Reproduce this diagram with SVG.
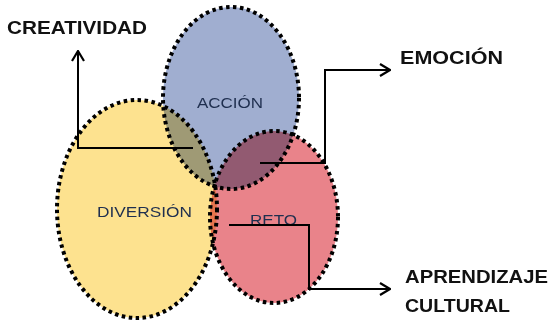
<svg xmlns="http://www.w3.org/2000/svg" width="551" height="325" viewBox="0 0 551 325">
<style>
.blob{stroke:#000;stroke-width:4;stroke-dasharray:3.5 3.5;mix-blend-mode:multiply}
.lbl{font-family:"Liberation Sans",Arial,sans-serif;font-size:15.5px;fill:#1f2f4f}
.title{font-family:"Liberation Sans",Arial,sans-serif;font-weight:bold;font-size:18.5px;fill:#111}
.conn{fill:none;stroke:#000;stroke-width:2}
</style>
<defs>
<marker id="arr" viewBox="0 0 12 14" refX="11" refY="7" markerWidth="12" markerHeight="14" markerUnits="userSpaceOnUse" orient="auto">
<path d="M1,1 L11,7 L1,13" fill="none" stroke="#000" stroke-width="2.2"/>
</marker>
</defs>
<rect width="551" height="325" fill="#fff"/>
<g id="diversion">
<ellipse class="blob" cx="137" cy="209" rx="80" ry="109" fill="#fde28f"/>
</g>
<g id="accion">
<ellipse class="blob" cx="231" cy="98" rx="68" ry="91" fill="#a0aed0"/>
</g>
<g id="reto">
<ellipse class="blob" cx="274" cy="217" rx="64" ry="86" fill="#e9838a"/>
</g>
<g id="labels">
<text class="lbl" x="197" y="108" textLength="66" lengthAdjust="spacingAndGlyphs">ACCIÓN</text>
<text class="lbl" x="97" y="217" textLength="95" lengthAdjust="spacingAndGlyphs">DIVERSIÓN</text>
<text class="lbl" x="250" y="225" textLength="47" lengthAdjust="spacingAndGlyphs">RETO</text>
</g>
<g id="connectors">
<path class="conn" d="M193,148 H78 V51" marker-end="url(#arr)"/>
<path class="conn" d="M260,163 H325 V70 H390" marker-end="url(#arr)"/>
<path class="conn" d="M229,225 H309 V289 H390" marker-end="url(#arr)"/>
</g>
<g id="creatividad"><text class="title" x="7" y="34" textLength="140" lengthAdjust="spacingAndGlyphs">CREATIVIDAD</text></g>
<g id="emocion"><text class="title" x="400" y="64" textLength="103" lengthAdjust="spacingAndGlyphs">EMOCIÓN</text></g>
<g id="aprendizaje"><text class="title" x="405" y="283" textLength="143" lengthAdjust="spacingAndGlyphs">APRENDIZAJE</text>
<text class="title" x="405" y="312" textLength="105" lengthAdjust="spacingAndGlyphs">CULTURAL</text></g>
</svg>
